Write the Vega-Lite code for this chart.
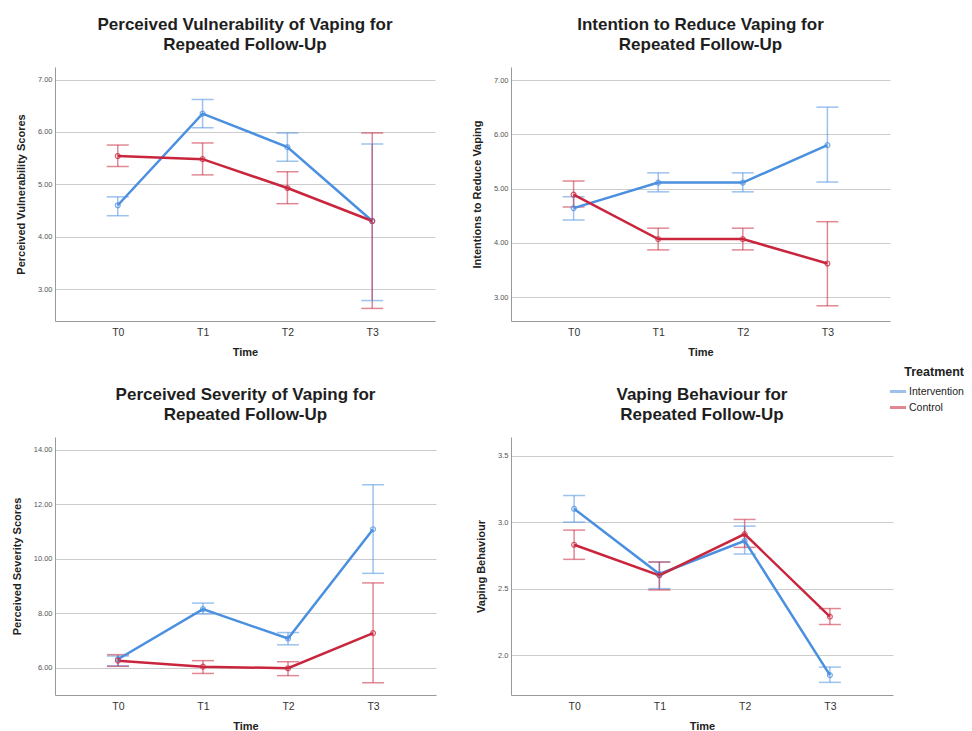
{
  "$schema": "https://vega.github.io/schema/vega-lite/v6.json",
  "padding": {"left": 11, "top": 16, "right": 0, "bottom": 0},
  "bounds": "flush",
  "columns": 2,
  "spacing": {"row": 116, "column": 75},
  "datasets": {
    "d": [
      {"p": "PV", "t": "T0", "g": "Intervention", "m": 4.60, "lo": 4.40, "hi": 4.76},
      {"p": "PV", "t": "T1", "g": "Intervention", "m": 6.35, "lo": 6.08, "hi": 6.62},
      {"p": "PV", "t": "T2", "g": "Intervention", "m": 5.71, "lo": 5.44, "hi": 5.98},
      {"p": "PV", "t": "T3", "g": "Intervention", "m": 4.30, "lo": 2.78, "hi": 5.77},
      {"p": "PV", "t": "T0", "g": "Control", "m": 5.54, "lo": 5.34, "hi": 5.75},
      {"p": "PV", "t": "T1", "g": "Control", "m": 5.48, "lo": 5.18, "hi": 5.79},
      {"p": "PV", "t": "T2", "g": "Control", "m": 4.93, "lo": 4.63, "hi": 5.24},
      {"p": "PV", "t": "T3", "g": "Control", "m": 4.30, "lo": 2.63, "hi": 5.98},
      {"p": "IR", "t": "T0", "g": "Intervention", "m": 4.64, "lo": 4.42, "hi": 4.85},
      {"p": "IR", "t": "T1", "g": "Intervention", "m": 5.11, "lo": 4.94, "hi": 5.29},
      {"p": "IR", "t": "T2", "g": "Intervention", "m": 5.11, "lo": 4.94, "hi": 5.29},
      {"p": "IR", "t": "T3", "g": "Intervention", "m": 5.80, "lo": 5.12, "hi": 6.50},
      {"p": "IR", "t": "T0", "g": "Control", "m": 4.89, "lo": 4.66, "hi": 5.14},
      {"p": "IR", "t": "T1", "g": "Control", "m": 4.07, "lo": 3.87, "hi": 4.27},
      {"p": "IR", "t": "T2", "g": "Control", "m": 4.07, "lo": 3.87, "hi": 4.27},
      {"p": "IR", "t": "T3", "g": "Control", "m": 3.62, "lo": 2.84, "hi": 4.39},
      {"p": "PS", "t": "T0", "g": "Intervention", "m": 6.31, "lo": 6.07, "hi": 6.43},
      {"p": "PS", "t": "T1", "g": "Intervention", "m": 8.15, "lo": 7.97, "hi": 8.37},
      {"p": "PS", "t": "T2", "g": "Intervention", "m": 7.07, "lo": 6.84, "hi": 7.29},
      {"p": "PS", "t": "T3", "g": "Intervention", "m": 11.08, "lo": 9.46, "hi": 12.71},
      {"p": "PS", "t": "T0", "g": "Control", "m": 6.26, "lo": 6.05, "hi": 6.48},
      {"p": "PS", "t": "T1", "g": "Control", "m": 6.04, "lo": 5.79, "hi": 6.26},
      {"p": "PS", "t": "T2", "g": "Control", "m": 5.98, "lo": 5.71, "hi": 6.22},
      {"p": "PS", "t": "T3", "g": "Control", "m": 7.27, "lo": 5.45, "hi": 9.11},
      {"p": "VB", "t": "T0", "g": "Intervention", "m": 3.10, "lo": 3.00, "hi": 3.20},
      {"p": "VB", "t": "T1", "g": "Intervention", "m": 2.61, "lo": 2.50, "hi": 2.70},
      {"p": "VB", "t": "T2", "g": "Intervention", "m": 2.86, "lo": 2.76, "hi": 2.97},
      {"p": "VB", "t": "T3", "g": "Intervention", "m": 1.85, "lo": 1.795, "hi": 1.91},
      {"p": "VB", "t": "T0", "g": "Control", "m": 2.83, "lo": 2.72, "hi": 2.94},
      {"p": "VB", "t": "T1", "g": "Control", "m": 2.60, "lo": 2.49, "hi": 2.70},
      {"p": "VB", "t": "T2", "g": "Control", "m": 2.91, "lo": 2.81, "hi": 3.02},
      {"p": "VB", "t": "T3", "g": "Control", "m": 2.29, "lo": 2.23, "hi": 2.35}
    ]
  },
  "data": {"name": "d"},
  "resolve": {"scale": {"color": "shared", "x": "independent", "y": "independent"}, "legend": {"color": "shared"}},
  "concat": [
    {
      "width": 380, "height": 254,
      "title": {"text": ["Perceived Vulnerability of Vaping for", "Repeated Follow-Up"]},
      "transform": [{"filter": "datum.p == 'PV'"}],
      "encoding": {
        "x": {"field": "t", "type": "ordinal", "scale": {"type": "point", "padding": 0.74}, "title": "Time"},
        "color": {"field": "g", "type": "nominal", "sort": ["Intervention", "Control"], "title": "Treatment",
          "scale": {"domain": ["Intervention", "Control"], "range": ["#4a8fe0", "#c9263e"]},
          "legend": {"orient": "none", "legendX": 833, "legendY": 299, "titleAnchor": "end", "titleFontSize": 12.5, "titleFontWeight": "bold", "titleColor": "#222", "labelFontSize": 10.5, "labelColor": "#222", "symbolType": "stroke", "symbolStrokeWidth": 3, "symbolSize": 260, "labelOffset": 1, "rowPadding": 0, "titlePadding": 3}}
      },
      "layer": [
        {"mark": {"type": "rule", "strokeWidth": 1.5, "opacity": 0.55},
         "encoding": {"y": {"field": "lo", "type": "quantitative", "title": "Perceived Vulnerability Scores", "scale": {"domain": [2.39, 7.24], "nice": false, "zero": false}, "axis": {"values": [3, 4, 5, 6, 7], "format": ".2f"}}, "y2": {"field": "hi"}}},
        {"mark": {"type": "tick", "size": 22, "thickness": 1.5, "opacity": 0.55},
         "encoding": {"y": {"field": "lo", "type": "quantitative", "title": "Perceived Vulnerability Scores"}}},
        {"mark": {"type": "tick", "size": 22, "thickness": 1.5, "opacity": 0.55},
         "encoding": {"y": {"field": "hi", "type": "quantitative", "title": "Perceived Vulnerability Scores"}}},
        {"mark": {"type": "line", "strokeWidth": 2.5},
         "encoding": {"y": {"field": "m", "type": "quantitative", "title": "Perceived Vulnerability Scores"}}},
        {"mark": {"type": "point", "filled": false, "size": 24, "strokeWidth": 1.2, "opacity": 0.75},
         "encoding": {"y": {"field": "m", "type": "quantitative", "title": "Perceived Vulnerability Scores"}}}
      ]
    },
    {
      "width": 379, "height": 254,
      "title": {"text": ["Intention to Reduce Vaping for", "Repeated Follow-Up"]},
      "transform": [{"filter": "datum.p == 'IR'"}],
      "encoding": {
        "x": {"field": "t", "type": "ordinal", "scale": {"type": "point", "padding": 0.74}, "title": "Time"},
        "color": {"field": "g", "type": "nominal", "sort": ["Intervention", "Control"], "title": "Treatment",
          "scale": {"domain": ["Intervention", "Control"], "range": ["#4a8fe0", "#c9263e"]}}
      },
      "layer": [
        {"mark": {"type": "rule", "strokeWidth": 1.5, "opacity": 0.55},
         "encoding": {"y": {"field": "lo", "type": "quantitative", "title": "Intentions to Reduce Vaping", "scale": {"domain": [2.56, 7.24], "nice": false, "zero": false}, "axis": {"values": [3, 4, 5, 6, 7], "format": ".2f"}}, "y2": {"field": "hi"}}},
        {"mark": {"type": "tick", "size": 22, "thickness": 1.5, "opacity": 0.55},
         "encoding": {"y": {"field": "lo", "type": "quantitative", "title": "Intentions to Reduce Vaping"}}},
        {"mark": {"type": "tick", "size": 22, "thickness": 1.5, "opacity": 0.55},
         "encoding": {"y": {"field": "hi", "type": "quantitative", "title": "Intentions to Reduce Vaping"}}},
        {"mark": {"type": "line", "strokeWidth": 2.5},
         "encoding": {"y": {"field": "m", "type": "quantitative", "title": "Intentions to Reduce Vaping"}}},
        {"mark": {"type": "point", "filled": false, "size": 24, "strokeWidth": 1.2, "opacity": 0.75},
         "encoding": {"y": {"field": "m", "type": "quantitative", "title": "Intentions to Reduce Vaping"}}}
      ]
    },
    {
      "width": 381, "height": 258,
      "title": {"text": ["Perceived Severity of Vaping for", "Repeated Follow-Up"]},
      "transform": [{"filter": "datum.p == 'PS'"}],
      "encoding": {
        "x": {"field": "t", "type": "ordinal", "scale": {"type": "point", "padding": 0.74}, "title": "Time"},
        "color": {"field": "g", "type": "nominal", "sort": ["Intervention", "Control"], "title": "Treatment",
          "scale": {"domain": ["Intervention", "Control"], "range": ["#4a8fe0", "#c9263e"]}}
      },
      "layer": [
        {"mark": {"type": "rule", "strokeWidth": 1.5, "opacity": 0.55},
         "encoding": {"y": {"field": "lo", "type": "quantitative", "title": "Perceived Severity Scores", "scale": {"domain": [5.0, 14.46], "nice": false, "zero": false}, "axis": {"values": [6, 8, 10, 12, 14], "format": ".2f"}}, "y2": {"field": "hi"}}},
        {"mark": {"type": "tick", "size": 22, "thickness": 1.5, "opacity": 0.55},
         "encoding": {"y": {"field": "lo", "type": "quantitative", "title": "Perceived Severity Scores"}}},
        {"mark": {"type": "tick", "size": 22, "thickness": 1.5, "opacity": 0.55},
         "encoding": {"y": {"field": "hi", "type": "quantitative", "title": "Perceived Severity Scores"}}},
        {"mark": {"type": "line", "strokeWidth": 2.5},
         "encoding": {"y": {"field": "m", "type": "quantitative", "title": "Perceived Severity Scores"}}},
        {"mark": {"type": "point", "filled": false, "size": 24, "strokeWidth": 1.2, "opacity": 0.75},
         "encoding": {"y": {"field": "m", "type": "quantitative", "title": "Perceived Severity Scores"}}}
      ]
    },
    {
      "width": 382, "height": 258,
      "title": {"text": ["Vaping Behaviour for", "Repeated Follow-Up"]},
      "transform": [{"filter": "datum.p == 'VB'"}],
      "encoding": {
        "x": {"field": "t", "type": "ordinal", "scale": {"type": "point", "padding": 0.74}, "title": "Time"},
        "color": {"field": "g", "type": "nominal", "sort": ["Intervention", "Control"], "title": "Treatment",
          "scale": {"domain": ["Intervention", "Control"], "range": ["#4a8fe0", "#c9263e"]}}
      },
      "layer": [
        {"mark": {"type": "rule", "strokeWidth": 1.5, "opacity": 0.55},
         "encoding": {"y": {"field": "lo", "type": "quantitative", "title": "Vaping Behaviour", "scale": {"domain": [1.70, 3.64], "nice": false, "zero": false}, "axis": {"values": [2.0, 2.5, 3.0, 3.5], "format": ".1f"}}, "y2": {"field": "hi"}}},
        {"mark": {"type": "tick", "size": 22, "thickness": 1.5, "opacity": 0.55},
         "encoding": {"y": {"field": "lo", "type": "quantitative", "title": "Vaping Behaviour"}}},
        {"mark": {"type": "tick", "size": 22, "thickness": 1.5, "opacity": 0.55},
         "encoding": {"y": {"field": "hi", "type": "quantitative", "title": "Vaping Behaviour"}}},
        {"mark": {"type": "line", "strokeWidth": 2.5},
         "encoding": {"y": {"field": "m", "type": "quantitative", "title": "Vaping Behaviour"}}},
        {"mark": {"type": "point", "filled": false, "size": 24, "strokeWidth": 1.2, "opacity": 0.75},
         "encoding": {"y": {"field": "m", "type": "quantitative", "title": "Vaping Behaviour"}}}
      ]
    }
  ],
  "config": {
    "font": "Liberation Sans",
    "view": {"stroke": null},
    "title": {"fontSize": 17, "fontWeight": "bold", "color": "#1e1e1e", "lineHeight": 20, "offset": 13, "anchor": "middle", "font": "Liberation Sans"},
    "axisY": {"grid": true, "gridColor": "#cccccc", "gridWidth": 1, "domainColor": "#999999", "ticks": false, "labelFontSize": 7.5, "labelColor": "#555555", "labelPadding": 3, "titleFontSize": 11, "titleFontWeight": "bold", "titleColor": "#222222", "titlePadding": 11},
    "axisX": {"grid": false, "ticks": false, "domainColor": "#999999", "labelFontSize": 10.5, "labelColor": "#333333", "labelAngle": 0, "labelPadding": 6, "titleFontSize": 11, "titleFontWeight": "bold", "titleColor": "#222222", "titlePadding": 9}
  }
}
